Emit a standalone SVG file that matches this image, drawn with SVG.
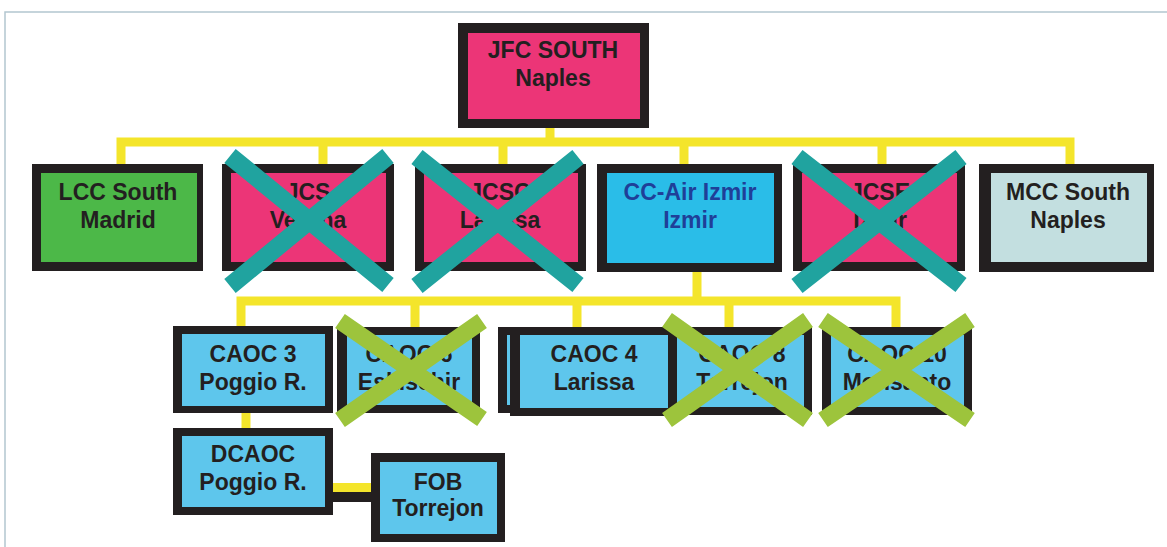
<svg xmlns="http://www.w3.org/2000/svg" width="1167" height="547" viewBox="0 0 1167 547">
<style>
.bd{fill:#231f20}
.pk{fill:#ec3577}
.gr{fill:#4cb848}
.cy{fill:#2abde8}
.lb{fill:#5ec6ec}
.mc{fill:#c3dfe0}
text{font-family:"Liberation Sans",Arial,sans-serif;font-weight:bold;font-size:23px;text-anchor:middle;fill:#231f20}
.bt{fill:#1f3f98}
.yl{fill:none;stroke:#f4e52b;stroke-width:9}
.xt{stroke:#20a39f;stroke-width:18;stroke-linecap:butt}
.xg{stroke:#9dc43c;stroke-width:17;stroke-linecap:butt}
</style>
<rect width="1167" height="547" fill="#ffffff"/>
<path d="M5,547V12H1167" fill="none" stroke="#b3c6d0" stroke-width="1.5"/>
<g id="connectors">
<path class="yl" d="M550,128V142M121,165V142H1070V165M323,142V165M503,142V165M684,142V165M882,142V165"/>
<path class="yl" d="M697,272V301M241,327V301H896V327M415,301V327M577,301V327M729,301V327"/>
<path class="yl" d="M246,413V429"/>
<rect x="333" y="483" width="39" height="9" fill="#f4e52b"/>
<rect x="333" y="492" width="39" height="10" class="bd"/>
</g>
<g id="jfc-south">
<rect class="bd" x="458" y="23" width="191" height="105"/>
<rect class="pk" x="468" y="33" width="172" height="86"/>
<text x="553" y="58">JFC SOUTH</text>
<text x="553" y="86">Naples</text>
</g>
<g id="lcc-south">
<rect class="bd" x="32" y="164" width="171" height="107"/>
<rect class="gr" x="41" y="173" width="156" height="89"/>
<text x="118" y="200">LCC South</text>
<text x="118" y="228">Madrid</text>
</g>
<g id="jcs-verona">
<rect class="bd" x="222" y="164" width="172" height="107"/>
<rect class="pk" x="231" y="173" width="155" height="89"/>
<text x="308" y="200">JCS</text>
<text x="308" y="228">Verona</text>
</g>
<g id="jcsc-larissa">
<rect class="bd" x="415" y="164" width="171" height="107"/>
<rect class="pk" x="424" y="173" width="154" height="89"/>
<text x="500" y="200">JCSC</text>
<text x="500" y="228">Larissa</text>
</g>
<g id="cc-air-izmir">
<rect class="bd" x="597" y="164" width="185" height="108"/>
<rect class="cy" x="607" y="173" width="167" height="90"/>
<text class="bt" x="690" y="200">CC-Air Izmir</text>
<text class="bt" x="690" y="228">Izmir</text>
</g>
<g id="jcse-izmir">
<rect class="bd" x="793" y="164" width="172" height="107"/>
<rect class="pk" x="802" y="173" width="155" height="89"/>
<text x="880" y="200">JCSE</text>
<text x="880" y="228">Izmir</text>
</g>
<g id="mcc-south">
<rect class="bd" x="979" y="164" width="175" height="108"/>
<rect class="mc" x="991" y="173" width="156" height="89"/>
<text x="1068" y="200">MCC South</text>
<text x="1068" y="228">Naples</text>
</g>
<g id="caoc-3">
<rect class="bd" x="173" y="326" width="160" height="87"/>
<rect class="lb" x="182" y="334" width="143" height="72"/>
<text x="253" y="362">CAOC 3</text>
<text x="253" y="390">Poggio R.</text>
</g>
<g id="caoc-6">
<rect class="bd" x="337" y="327" width="143" height="86"/>
<rect class="lb" x="347" y="335" width="125" height="70"/>
<text x="409" y="362">CAOC 6</text>
<text x="409" y="390">Eskisehir</text>
</g>
<g id="caoc-8">
<rect class="bd" x="665" y="327" width="147" height="88"/>
<rect class="lb" x="674" y="335" width="130" height="72"/>
<text x="742" y="362">CAOC 8</text>
<text x="742" y="390">Torrejon</text>
</g>
<g id="caoc-4">
<rect class="bd" x="498" y="327" width="150" height="86"/>
<rect class="lb" x="507" y="335" width="130" height="70"/>
<rect class="bd" x="510" y="327" width="167" height="89"/>
<rect class="lb" x="520" y="335" width="148" height="73"/>
<text x="594" y="362">CAOC 4</text>
<text x="594" y="390">Larissa</text>
</g>
<g id="caoc-10">
<rect class="bd" x="822" y="327" width="150" height="88"/>
<rect class="lb" x="831" y="335" width="133" height="72"/>
<text x="897" y="362">CAOC 10</text>
<text x="897" y="390">Monsanto</text>
</g>
<g id="dcaoc">
<rect class="bd" x="173" y="428" width="160" height="87"/>
<rect class="lb" x="182" y="436" width="143" height="71"/>
<text x="253" y="462">DCAOC</text>
<text x="253" y="490">Poggio R.</text>
</g>
<g id="fob-torrejon">
<rect class="bd" x="371" y="453" width="134" height="89"/>
<rect class="lb" x="380" y="462" width="117" height="72"/>
<text x="438" y="490">FOB</text>
<text x="438" y="516">Torrejon</text>
</g>
<g id="crosses">
<path class="xt" d="M230,156L388,285M388,156L230,286"/>
<path class="xt" d="M417,157L578,285M578,157L417,286"/>
<path class="xt" d="M797,157L961,285M961,157L797,286"/>
<path class="xg" d="M340,321L482,419M482,321L340,420"/>
<path class="xg" d="M667,320L808,420M808,320L667,420"/>
<path class="xg" d="M823,320L970,420M970,320L823,420"/>
</g>
</svg>
